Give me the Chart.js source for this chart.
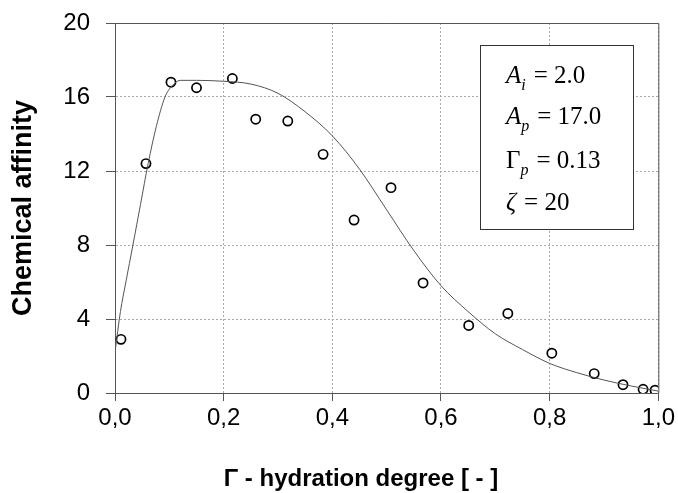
<!DOCTYPE html>
<html>
<head>
<meta charset="utf-8">
<script src="https://cdn.jsdelivr.net/npm/chart.js@4"></script>
<style>
  html, body { margin: 0; padding: 0; background: #fff; }
  #wrap { width: 678px; height: 493px; }
</style>
</head>
<body>
<div id="wrap"><canvas id="chart" width="678" height="493"></canvas></div>
<script>
// measured points (hydration degree vs chemical affinity)
const measX = [0.011, 0.057, 0.103, 0.150, 0.216, 0.259, 0.318, 0.383, 0.440, 0.508,
               0.567, 0.651, 0.723, 0.804, 0.882, 0.935, 0.972, 0.994];
const measY = [2.9, 12.4, 16.8, 16.5, 17.0, 14.8, 14.7, 12.9, 9.35, 11.1,
               5.95, 3.65, 4.3, 2.15, 1.05, 0.45, 0.2, 0.15];

// fitted curve
const fitX = [0, 0.01, 0.02, 0.033, 0.047, 0.061, 0.076, 0.092, 0.105, 0.12, 0.15, 0.2,
              0.25, 0.3, 0.35, 0.4, 0.45, 0.5, 0.55, 0.6, 0.65, 0.7, 0.75, 0.8,
              0.85, 0.9, 0.95, 1.0];
const fitY = [2.2, 4.4, 6.0, 8.0, 10.2, 12.4, 14.4, 16.0, 16.6, 16.9, 16.9, 16.85,
              16.7, 16.2, 15.2, 13.9, 12.1, 9.9, 7.7, 5.8, 4.4, 3.2, 2.35, 1.6,
              1.1, 0.7, 0.38, 0.1];

const xTicks = [0, 0.2, 0.4, 0.6, 0.8, 1.0];
const yTicks = [0, 4, 8, 12, 16, 20];
const xTitle = 'Γ - hydration degree [ - ]';

const paramLines = [
  { main: 'A', sub: 'i', rest: '= 2.0' },
  { main: 'A', sub: 'p', rest: '= 17.0' },
  { main: 'Γ', sub: 'p', rest: '= 0.13' },
  { main: 'ζ', sub: '', rest: '= 20' }
];

const frame = {
  id: 'frame',
  afterDraw(chart) {
    const { ctx, chartArea: a } = chart;
    ctx.save();
    ctx.strokeStyle = '#555';
    ctx.lineWidth = 1;
    ctx.beginPath();
    ctx.moveTo(a.left, a.top + 0.5);
    ctx.lineTo(a.right + 0.5, a.top + 0.5);
    ctx.lineTo(a.right + 0.5, a.bottom);
    ctx.stroke();

    // x axis title sits a bit left of the plot centre in the original
    ctx.fillStyle = '#000';
    ctx.font = 'bold 24px "Liberation Sans"';
    ctx.textAlign = 'center';
    ctx.textBaseline = 'middle';
    ctx.fillText(xTitle, 361, 479);

    // parameter box
    const bx = 480, by = 45, bw = 153, bh = 184;
    ctx.fillStyle = '#fff';
    ctx.fillRect(bx, by, bw, bh);
    ctx.strokeStyle = '#333';
    ctx.strokeRect(bx + 0.5, by + 0.5, bw, bh);
    ctx.fillStyle = '#000';
    ctx.textAlign = 'left';
    ctx.textBaseline = 'alphabetic';
    const base = [83, 124, 168, 210];
    paramLines.forEach((p, i) => {
      let x = 506;
      const y = base[i];
      ctx.font = (p.main === 'Γ' ? '' : 'italic ') + '25px "Liberation Serif"';
      ctx.fillText(p.main, x, y);
      x += ctx.measureText(p.main).width;
      if (p.sub) {
        ctx.font = 'italic 16px "Liberation Serif"';
        ctx.fillText(p.sub, x, y + 7);
        x += ctx.measureText(p.sub).width;
      }
      ctx.font = '25px "Liberation Serif"';
      ctx.fillText(p.rest, x + 8, y);
    });
    ctx.restore();
  }
};

const fmt = v => v.toFixed(1).replace('.', ',');

new Chart(document.getElementById('chart'), {
  type: 'scatter',
  data: {
    datasets: [
      {
        type: 'line',
        data: fitX.map((x, i) => ({ x, y: fitY[i] })),
        borderColor: '#555',
        borderWidth: 1,
        pointRadius: 0,
        cubicInterpolationMode: 'monotone',
        fill: false
      },
      {
        data: measX.map((x, i) => ({ x, y: measY[i] })),
        pointRadius: 4.6,
        pointBorderWidth: 1.7,
        pointBorderColor: '#000',
        pointBackgroundColor: '#fff'
      }
    ]
  },
  options: {
    responsive: false,
    animation: false,
    layout: { padding: { left: 0, right: 16, top: 23, bottom: 0 } },
    plugins: { legend: { display: false }, tooltip: { enabled: false } },
    scales: {
      x: {
        type: 'linear', min: 0, max: 1,
        afterBuildTicks: s => { s.ticks = xTicks.map(v => ({ value: v })); },
        afterFit: s => { s.height = 100; },
        ticks: { callback: fmt, color: '#000', padding: 3, maxRotation: 0,
                 font: { family: 'Liberation Sans', size: 24 } },
        grid: { color: '#aaa', tickColor: '#555', tickLength: 8 },
        border: { color: '#555', dash: [2, 2] },
        title: { display: false }
      },
      y: {
        type: 'linear', min: 0, max: 20,
        afterBuildTicks: s => { s.ticks = yTicks.map(v => ({ value: v })); },
        afterFit: s => { s.width = 115; s.paddingTop = 0; },
        ticks: { color: '#000', padding: 16,
                 font: { family: 'Liberation Sans', size: 24 } },
        grid: { color: '#aaa', tickColor: '#555', tickLength: 9 },
        border: { color: '#555', dash: [2, 2] },
        title: { display: true, text: 'Chemical affinity', color: '#000',
                 padding: { top: 7, bottom: 0 },
                 font: { family: 'Liberation Sans', size: 27, weight: 'bold' } }
      }
    }
  },
  plugins: [frame]
});
</script>
</body>
</html>
